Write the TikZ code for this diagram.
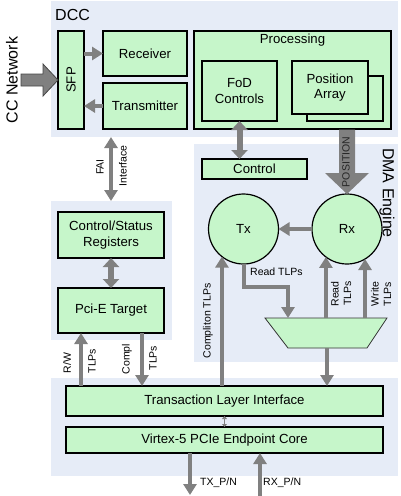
\documentclass[tikz,border=0pt]{standalone}
\usepackage{fontspec}
\setmainfont{Liberation Sans}
\usetikzlibrary{arrows.meta,calc}
\definecolor{panelbg}{RGB}{230,236,247}
\definecolor{boxgreen}{RGB}{198,246,202}
\definecolor{agray}{RGB}{128,128,128}
\begin{document}
\begin{tikzpicture}[x=1pt,y=-1pt,
  panel/.style={fill=panelbg, draw=none, inner sep=0pt, outer sep=0pt, rectangle},
  box/.style={draw=black, line width=1.2pt, fill=boxgreen, inner sep=2pt, outer sep=0pt,
    rectangle, align=center, font=\fontsize{13.2}{15.5}\selectfont},
  rnd/.style={draw=black, line width=1.2pt, fill=boxgreen, circle, minimum size=70pt,
    inner sep=0pt, outer sep=0pt, font=\fontsize{13.2}{15.5}\selectfont},
  big/.style={font=\fontsize{16}{18}\selectfont, inner sep=0pt},
  small/.style={font=\fontsize{10.5}{12.5}\selectfont, inner sep=0pt},
  garrow/.style={draw=agray, line width=4pt, -{Triangle[width=13pt,length=11pt]}},
  gdarrow/.style={draw=agray, line width=4pt,
    {Triangle[width=13pt,length=11pt]}-{Triangle[width=13pt,length=11pt]}},
  gfat/.style={draw=agray, line width=6pt,
    {Triangle[width=16pt,length=9pt]}-{Triangle[width=16pt,length=9pt]}},
  gthin/.style={draw=agray, line width=1.5pt,
    {Triangle[width=5pt,length=3pt]}-{Triangle[width=5pt,length=3pt]}}
]
\useasboundingbox (0,0) rectangle (400,496);
% panels
\node[panel, minimum width=347pt, minimum height=136pt] (dccp) at (224.5,69) {};
\node[panel, minimum width=204pt, minimum height=218pt] (dmap) at (296,253) {};
\node[panel, minimum width=121pt, minimum height=139pt] (leftp) at (111.5,270.5) {};
\node[panel, minimum width=347pt, minimum height=98pt] (botp) at (224.5,427) {};
% panel titles
\node[big, anchor=west] (dcct) at (55,15) {DCC};
\node[big, rotate=90] (cct) at (12,80) {CC Network};
\node[big, rotate=-90] (dmat) at (387,193) {DMA Engine};
% DCC boxes
\node[box, minimum width=26pt, minimum height=98pt] (sfp) at (71,80) {};
\node[rotate=90, font=\fontsize{13.2}{15.5}\selectfont] (sfpt) at (sfp.center) {SFP};
\node[box, minimum width=84pt, minimum height=45pt] (recv) at (145,53.5) {Receiver};
\node[box, minimum width=84pt, minimum height=46pt] (trans) at (145,106) {Transmitter};
\node[box, minimum width=197pt, minimum height=98pt,
  label={[anchor=north, inner sep=3pt, font=\fontsize{13.2}{15.5}\selectfont]north:Processing}]
  (proc) at (292.5,80) {};
\node[box, minimum width=75pt, minimum height=60pt] (fod) at (239.5,91) {FoD\\Controls};
\node[box, minimum width=76pt, minimum height=45pt] (posback) at (345,98.5) {};
\node[box, minimum width=76pt, minimum height=53pt] (pos) at (330,87.5) {Position\\Array};
% DMA engine
\node[box, minimum width=105pt, minimum height=20pt] (ctrl) at (254.5,169) {Control};
\node[rnd] (tx) at (243.5,229) {Tx};
\node[rnd] (rx) at (347,229) {Rx};
\coordinate (mxtl) at (265,318);
\coordinate (mxtr) at (387,318);
\coordinate (mxbr) at (367,348);
\coordinate (mxbl) at (288,348);
\draw[fill=boxgreen, draw=black!80, line width=0.8pt] (mxtl) -- (mxtr) -- (mxbr) -- (mxbl) -- cycle;
\coordinate (mxin) at (288,318);
\coordinate (mxout) at (327,348);
% left panel
\node[box, minimum width=106pt, minimum height=46pt] (csr) at (111,235) {Control/Status\\Registers};
\node[box, minimum width=106pt, minimum height=45pt] (pcie) at (111,310.5) {Pci-E Target};
% bottom
\node[box, minimum width=317pt, minimum height=30pt] (tli) at (224.5,401) {Transaction Layer Interface};
\node[box, minimum width=317pt, minimum height=26pt] (vtx) at (224.5,440) {Virtex-5 PCIe Endpoint Core};
% CC network arrow
\filldraw[fill=agray, draw=agray!55!black, line width=0.8pt, line join=miter]
  (sfp.west) -- ++(-15,-16) -- ++(0,10) -- ++(-22,0) -- ++(0,12) -- ++(22,0) -- ++(0,10) -- cycle;
% DCC arrows
\draw[garrow] (recv.west -| sfp.east) -- (recv.west);
\draw[garrow] (trans.west) -- (trans.west -| sfp.east);
\draw[gdarrow] (dccp.south -| csr.center) -- (leftp.north -| csr.center);
\node[small, rotate=90] (fail) at (100,167) {FAI};
\node[small, rotate=90] (ifl) at (123,166) {Interface};
\draw[gfat] (fod.south) -- (fod.south |- ctrl.north);
% POSITION arrow
\coordinate (ptop) at ($(rx.north |- proc.south)+(0,0.6)$);
\fill[agray] ($(ptop)+(-8,0)$) -- ($(rx.north)+(-8,-21)$) -- ($(rx.north)+(-22,-21)$) -- (rx.north)
  -- ($(rx.north)+(22,-21)$) -- ($(rx.north)+(8,-21)$) -- ($(ptop)+(8,0)$) -- cycle;
\node[small, rotate=90, text=black!85] (post) at (346,162) {POSITION};
% DMA arrows
\draw[garrow] (rx.west) -- (tx.east);
\draw[garrow] (tx.south) -- ++(0,23) -| (mxin);
\node[small, anchor=west] (rdl) at (250,272) {Read TLPs};
\draw[garrow] (rx.233 |- mxtl) -- (rx.233);
\draw[garrow] (rx.301 |- mxtl) -- (rx.301);
\node[small, rotate=90, align=right] (rdl2) at (341,294) {Read\\TLPs};
\node[small, rotate=90, align=right] (wrl) at (381,294) {Write\\TLPs};
\draw[garrow] (mxout) -- (mxout |- tli.north);
\draw[garrow] (tx.232 |- tli.north) -- (tx.232);
\node[small, rotate=90] (cmpl) at (208,321) {Compliton TLPs};
% left arrows
\draw[gfat] (csr.south) -- (pcie.north);
\coordinate (rw) at ($(pcie.south west)+(23,0)$);
\coordinate (cp) at ($(pcie.south west)+(84,0)$);
\draw[garrow] (rw |- tli.north) -- (rw);
\draw[garrow] (cp) -- (cp |- tli.north);
\node[small, rotate=90] (rwl) at (67,363) {R/W};
\node[small, rotate=90] (tl1) at (92,361) {TLPs};
\node[small, rotate=90] (cpl) at (127,359) {Compl};
\node[small, rotate=90] (tl2) at (153,358) {TLPs};
% bottom arrows
\draw[gthin] (tli.south) -- (vtx.north);
\coordinate (txend) at (190,495);
\coordinate (rxend) at (260,496);
\draw[garrow] (txend |- vtx.south) -- (txend);
\draw[garrow] (rxend) -- (rxend |- vtx.south);
\node[small, anchor=west] (txl) at (200,483) {TX\_P/N};
\node[small, anchor=west] (rxl) at (263,483) {RX\_P/N};
\end{tikzpicture}
\end{document}
